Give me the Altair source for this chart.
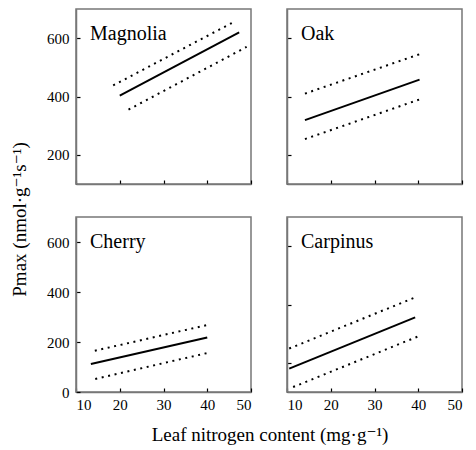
import altair as alt
import pandas as pd

FONT = "Liberation Serif, Tinos, Times New Roman, DejaVu Serif, serif"

species = ["Magnolia", "Oak", "Cherry", "Carpinus"]

# Regression line (solid) end points
fit_x0 = [20.0, 14.1, 13.4, 10.5]
fit_x1 = [47.3, 40.3, 40.0, 39.3]
fit_y0 = [403, 319, 112, 180]
fit_y1 = [620, 458, 218, 356]

# Upper confidence band (dotted)
upper_x0 = [18.5, 14.1, 14.3, 10.5]
upper_x1 = [46.0, 40.3, 40.0, 39.4]
upper_y0 = [438, 410, 165, 249]
upper_y1 = [655, 545, 268, 425]

# Lower confidence band (dotted)
lower_x0 = [22.0, 14.1, 14.4, 11.4]
lower_x1 = [49.0, 40.3, 40.0, 40.2]
lower_y0 = [355, 254, 52, 117]
lower_y1 = [570, 390, 156, 292]

y_domains = [[100, 700], [100, 700], [0, 700], [100, 700]]
y_ticks = [[200, 400, 600], [200, 400, 600], [0, 200, 400, 600], [200, 400, 600]]
x_domain = [10, 50]
x_ticks = [10, 20, 30, 40, 50]


def panel(i, ylab, xlab):
    rows = []
    for kind, xa, xb, ya, yb in [
        ("fit", fit_x0, fit_x1, fit_y0, fit_y1),
        ("upper", upper_x0, upper_x1, upper_y0, upper_y1),
        ("lower", lower_x0, lower_x1, lower_y0, lower_y1),
    ]:
        rows.append({"kind": kind, "x": xa[i], "y": ya[i]})
        rows.append({"kind": kind, "x": xb[i], "y": yb[i]})
    df = pd.DataFrame(rows)
    xenc = alt.X(
        "x:Q",
        scale=alt.Scale(domain=x_domain, nice=False, zero=False),
        axis=alt.Axis(values=x_ticks, labels=xlab, title=None, grid=False,
                      tickSize=alt.ExprRef(expr="-4"), labelPadding=9),
    )
    yenc = alt.Y(
        "y:Q",
        scale=alt.Scale(domain=y_domains[i], nice=False, zero=False),
        axis=alt.Axis(values=y_ticks[i], labels=ylab, title=None, grid=False,
                      tickSize=alt.ExprRef(expr="-4"), labelPadding=11),
    )
    base = alt.Chart(df)
    solid = base.transform_filter(alt.datum.kind == "fit").mark_line(
        color="black", strokeWidth=2
    ).encode(x=xenc, y=yenc)
    dotted = base.transform_filter(alt.datum.kind != "fit").mark_line(
        color="black", strokeWidth=2, strokeDash=[2, 4.6]
    ).encode(x=xenc, y=yenc, detail="kind:N")
    label = alt.Chart(pd.DataFrame({"name": [species[i]]})).mark_text(
        align="left", baseline="alphabetic", font=FONT, fontSize=20, color="black"
    ).encode(x=alt.value(14), y=alt.value(31), text="name:N")
    return alt.layer(solid, dotted, label).properties(width=175, height=175)


grid = alt.concat(
    panel(0, True, False),
    panel(1, False, False),
    panel(2, True, True),
    panel(3, False, True),
    columns=2,
    spacing={"row": 33, "column": 36},
).properties(
    bounds="flush",
    title=alt.TitleParams(
        "Pmax (nmol·g⁻¹s⁻¹)", orient="left", anchor="middle", font=FONT,
        fontSize=19, fontWeight="normal", color="black", offset=16, dx=-9,
    ),
)

chart = alt.vconcat(grid).properties(
    title=alt.TitleParams(
        "Leaf nitrogen content (mg·g⁻¹)", orient="bottom", anchor="middle",
        font=FONT, fontSize=19, fontWeight="normal", color="black", offset=13,
        dx=33,
    ),
    padding={"left": 2, "top": 0, "right": 0, "bottom": 0},
).configure_view(
    stroke="#777", strokeWidth=1.5
).configure_axis(
    domainColor="#777", domainWidth=1.5, tickColor="black", tickWidth=1.2,
    labelFont=FONT, labelFontSize=15, labelColor="black",
)

chart.save("out.html", embed_options={"renderer": "svg", "actions": False})
